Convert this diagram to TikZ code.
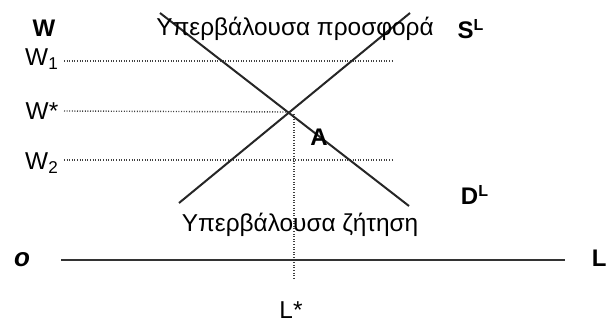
\documentclass[tikz,border=0pt]{standalone}
\usepackage{fontspec}
\setmainfont{Liberation Sans}
\usetikzlibrary{positioning}

\begin{document}
\begin{tikzpicture}[x=0.5pt,y=-0.5pt,
  every node/.style={font=\fontsize{12.2}{14}\selectfont, inner sep=1pt},
  curve/.style={line width=1pt, black!85},
  guide/.style={line width=0.7pt, black!75, dash pattern=on 0.5pt off 0.8pt},
  axisline/.style={line width=0.8pt, black!80},
  tag/.style={font=\fontsize{12}{14}\selectfont\bfseries}]
\useasboundingbox (0,0) rectangle (609,321);
% wage labels
\node[tag] (w) at (44,28) {W};
\node (w1) at (42,59) {W\textsubscript{1}};
\node (wstar) at (42,111) {W*};
\node (w2) at (42,163) {W\textsubscript{2}};
% ends of the curves
\coordinate (d1) at (160,13);
\coordinate (d2) at (409,206);
\coordinate (s1) at (179,203);
\coordinate (s2) at (410,13);
\coordinate (eq) at (289,112);
\coordinate (gr) at (392,0);
\coordinate (lb) at (294,280);
% guides
\draw[guide] (64,61) -- (64,61 -| gr);
\draw[guide] (64,111) -- (eq);
\draw[guide] (64,160) -- (64,160 -| gr);
\draw[guide] (eq -| lb) ++(0,2) -- (lb);
% supply and demand
\draw[curve] (d1) -- (d2);
\draw[curve] (s1) -- (s2);
% horizontal axis
\node[font=\fontsize{13}{14}\selectfont\bfseries\itshape] (o) at (22,260) {o};
\node[tag, anchor=east] (l) at (609,258) {L};
\coordinate (ax0) at (61,260);
\coordinate (ax1) at (565,260);
\draw[axisline] (ax0) -- (ax1);
\node[anchor=south] (lstar) at (291,321) {L*};
% curve labels
\node (surplus) at (295,29) {Υπερβάλουσα προσφορά};
\node (shortage) at (300,225) {Υπερβάλουσα ζήτηση};
\node[tag] (sl) at (471,29) {S\textsuperscript{L}};
\node[tag] (dl) at (475,195) {D\textsuperscript{L}};
\node[tag] (a) at (319,137) {A};
\end{tikzpicture}
\end{document}
